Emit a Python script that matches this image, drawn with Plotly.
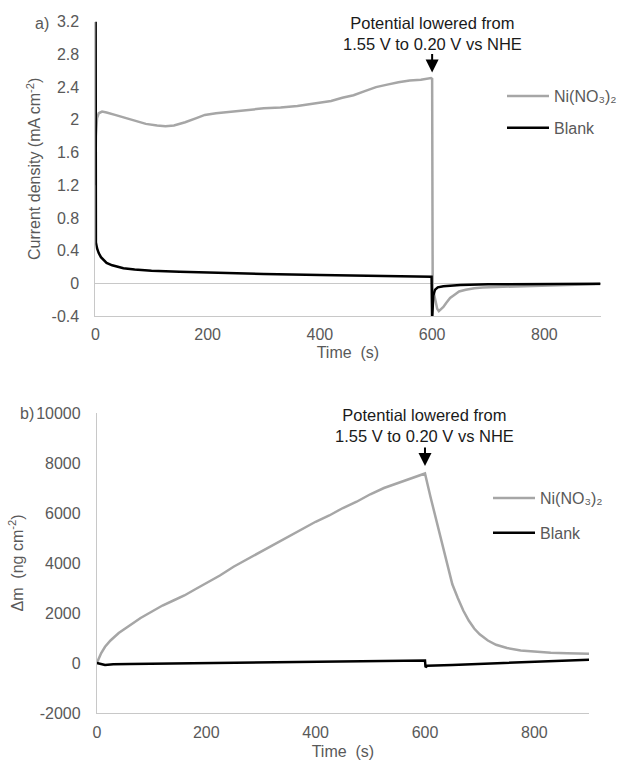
import plotly.graph_objects as go

# ---- (a) current density vs time ----
t_ni_a = [0, 1, 3, 6, 12, 20, 35, 50, 70, 90, 110, 125, 140, 160, 180, 195, 215, 240, 270, 300,
          330, 360, 390, 420, 440, 460, 480, 500, 520, 540, 560, 580, 598, 600,
          601, 605, 609, 612, 616, 620, 625, 632, 640, 648, 660, 675, 690, 730, 780, 840, 900]
j_ni_a = [1.2, 1.8, 2.02, 2.08, 2.10, 2.09, 2.06, 2.03, 1.99, 1.95, 1.93, 1.92, 1.93, 1.97, 2.02, 2.06, 2.08, 2.10, 2.12, 2.14,
          2.15, 2.17, 2.20, 2.23, 2.27, 2.30, 2.35, 2.40, 2.43, 2.46, 2.48, 2.49, 2.51, 2.50,
          -0.05, -0.20, -0.31, -0.34, -0.32, -0.29, -0.24, -0.18, -0.14, -0.10, -0.08, -0.06, -0.05, -0.04, -0.03, -0.02, -0.01]

t_blank_a = [0, 1, 3, 6, 10, 15, 20, 30, 40, 50, 70, 100, 150, 200, 300, 400, 500, 599, 600,
             602, 605, 610, 620, 650, 700, 800, 900]
j_blank_a = [6.0, 0.50, 0.43, 0.37, 0.32, 0.28, 0.25, 0.22, 0.20, 0.185, 0.17, 0.155, 0.14, 0.13, 0.115, 0.10, 0.09, 0.08, -0.45,
             -0.15, -0.08, -0.05, -0.035, -0.02, -0.012, -0.008, -0.005]

# ---- (b) mass change vs time ----
t_ni_b = [0, 3, 8, 15, 25, 40, 60, 80, 100, 120, 140, 160, 180, 200, 225, 250, 275, 300, 325, 350,
          375, 400, 425, 450, 475, 500, 525, 550, 575, 598, 600,
          610, 620, 630, 640, 650, 660, 670, 680, 690, 700, 715, 730, 750, 775, 800, 830, 860, 900]
m_ni_b = [0, 150, 400, 650, 900, 1200, 1500, 1800, 2050, 2300, 2500, 2700, 2950, 3200, 3500, 3850, 4150, 4450, 4750, 5050,
          5350, 5650, 5900, 6200, 6450, 6750, 7000, 7200, 7400, 7580, 7580,
          6650, 5750, 4900, 4000, 3150, 2600, 2100, 1700, 1380, 1150, 900, 730, 600, 500, 450, 410, 390, 370]

t_blank_b = [0, 5, 10, 15, 20, 30, 60, 100, 200, 300, 400, 500, 599, 600, 601, 604, 650, 700, 800, 900]
m_blank_b = [0, -30, -60, -80, -70, -50, -40, -30, 0, 30, 50, 80, 100, 100, -170, -110, -75, -35, 45, 130]

# ---- tick labels ----
x_ticks = [0, 200, 400, 600, 800]
x_tick_text = ["0", "200", "400", "600", "800"]
ya_ticks = [-0.4, 0, 0.4, 0.8, 1.2, 1.6, 2, 2.4, 2.8, 3.2]
ya_tick_text = ["-0.4", "0", "0.4", "0.8", "1.2", "1.6", "2", "2.4", "2.8", "3.2"]
yb_ticks = [-2000, 0, 2000, 4000, 6000, 8000, 10000]
yb_tick_text = ["-2000", "0", "2000", "4000", "6000", "8000", "10000"]

W, H = 622, 760
GRAY = "#a6a6a6"
TXT = "#595959"
AXL = "#c8c8c8"
FONT = "Liberation Sans, Arial, sans-serif"
FS = 16

fig = go.Figure()
fig.add_trace(go.Scatter(x=t_ni_a, y=j_ni_a, mode="lines", name="Ni(NO₃)₂",
                         line=dict(color=GRAY, width=2.5), xaxis="x", yaxis="y",
                         legend="legend", legendgroup="a1"))
fig.add_trace(go.Scatter(x=t_blank_a, y=j_blank_a, mode="lines", name="Blank",
                         line=dict(color="#000000", width=2.5), xaxis="x", yaxis="y",
                         legend="legend", legendgroup="a2"))
fig.add_trace(go.Scatter(x=t_ni_b, y=m_ni_b, mode="lines", name="Ni(NO₃)₂",
                         line=dict(color=GRAY, width=2.5), xaxis="x2", yaxis="y2",
                         legend="legend2", legendgroup="b1"))
fig.add_trace(go.Scatter(x=t_blank_b, y=m_blank_b, mode="lines", name="Blank",
                         line=dict(color="#000000", width=2.5), xaxis="x2", yaxis="y2",
                         legend="legend2", legendgroup="b2"))

axis_common = dict(showgrid=False, showline=True, linecolor=AXL, linewidth=1, ticks="",
                   tickfont=dict(size=FS, color=TXT, family=FONT), automargin=False)

fig.update_layout(
    width=W, height=H,
    margin=dict(l=0, r=0, t=0, b=0),
    paper_bgcolor="white", plot_bgcolor="white",
    font=dict(family=FONT, size=FS, color=TXT),
    xaxis=dict(domain=[95.5 / W, 601.5 / W], anchor="y", range=[0, 900],
               tickvals=x_ticks, ticktext=x_tick_text, zeroline=False,
               ticklabelstandoff=4,
               title=dict(text="Time  (s)", font=dict(size=FS, color=TXT), standoff=4),
               **axis_common),
    yaxis=dict(domain=[1 - 316 / H, 1 - 21.7 / H], anchor="x", range=[-0.4, 3.2],
               tickvals=ya_ticks, ticktext=ya_tick_text,
               zeroline=True, zerolinecolor=AXL, zerolinewidth=1,
               ticklabelstandoff=12,
               title=dict(text="Current density (mA cm<sup>-2</sup>)",
                          font=dict(size=FS, color=TXT), standoff=6),
               **axis_common),
    xaxis2=dict(domain=[97 / W, 590 / W], anchor="y2", range=[0, 900],
                tickvals=x_ticks, ticktext=x_tick_text, zeroline=False,
                ticklabelstandoff=5,
                title=dict(text="Time  (s)", font=dict(size=FS, color=TXT), standoff=5),
                **axis_common),
    yaxis2=dict(domain=[1 - 713 / H, 1 - 413 / H], anchor="x2", range=[-2000, 10000],
                tickvals=yb_ticks, ticktext=yb_tick_text, zeroline=False,
                ticklabelstandoff=12,
                title=dict(text="Δm  (ng cm<sup>-2</sup>)",
                           font=dict(size=FS, color=TXT), standoff=8),
                **axis_common),
    legend=dict(x=503 / W, y=1 - 79 / H, xanchor="left", yanchor="top",
                bgcolor="rgba(0,0,0,0)", font=dict(size=FS, color=TXT, family=FONT),
                traceorder="grouped", tracegroupgap=8, itemwidth=42),
    legend2=dict(x=488 / W, y=1 - 481 / H, xanchor="left", yanchor="top",
                 bgcolor="rgba(0,0,0,0)", font=dict(size=FS, color=TXT, family=FONT),
                 traceorder="grouped", tracegroupgap=11, itemwidth=42),
    showlegend=True,
)

note = "Potential lowered from<br>1.55 V to 0.20 V vs NHE"
NOTE_FONT = dict(size=16.5, color="#1a1a1a", family=FONT)
ann = [
    dict(text=note, xref="x", yref="paper", x=600, y=1 - 33.5 / H, showarrow=False,
         xanchor="center", yanchor="middle", font=NOTE_FONT),
    dict(text="", xref="x", yref="y", x=600, y=2.58, ax=0, ay=-20, showarrow=True,
         arrowhead=2, arrowsize=1.3, arrowwidth=2, arrowcolor="#000000"),
    dict(text=note, xref="x2", yref="paper", x=600, y=1 - 425 / H, showarrow=False,
         xanchor="center", yanchor="middle", font=NOTE_FONT),
    dict(text="", xref="x2", yref="y2", x=600, y=7880, ax=0, ay=-20, showarrow=True,
         arrowhead=2, arrowsize=1.3, arrowwidth=2, arrowcolor="#000000"),
    dict(text="a)", xref="paper", yref="paper", x=42.5 / W, y=1 - 24 / H, showarrow=False,
         xanchor="center", yanchor="middle", font=dict(size=FS, color=TXT, family=FONT)),
    dict(text="b)", xref="paper", yref="paper", x=27.5 / W, y=1 - 413 / H, showarrow=False,
         xanchor="center", yanchor="middle", font=dict(size=FS, color=TXT, family=FONT)),
]
fig.update_layout(annotations=ann)

fig.write_html("out.html")
